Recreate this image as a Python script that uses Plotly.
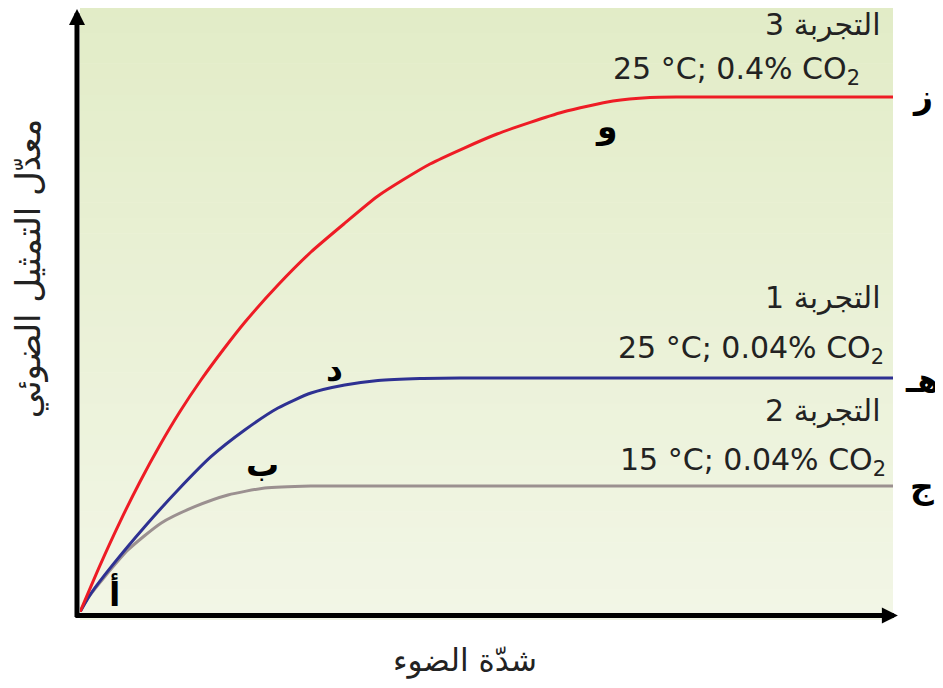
"""Light intensity vs photosynthesis rate, three experiments."""

import plotly.graph_objects as go

# light intensity (arbitrary units, 0-100) and photosynthesis rate (0-100)
red_x = [0, 2.46, 4.92, 7.38, 9.84, 12.30, 14.88, 17.59, 20.30, 24.35, 28.41, 32.60, 36.65,
         43.05, 51.29, 59.41, 65.56, 70.11, 73.80, 100]
red_y = [0, 7.77, 15.01, 21.68, 27.79, 33.36, 38.60, 43.59, 48.25, 54.41, 59.90, 64.73, 69.22,
         74.54, 79.53, 83.19, 85.02, 85.61, 85.69, 85.69]

blue_x = [0, 1.39, 3.85, 7.96, 12.05, 16.11, 20.26, 24.35, 28.41, 32.56, 36.65, 41.82, 46.74, 100]
blue_y = [0, 3.16, 7.54, 14.19, 20.30, 25.84, 30.28, 33.94, 36.44, 37.77, 38.52, 38.85, 38.94, 38.94]

gray_x = [0, 0.98, 3.04, 5.90, 10.0, 14.11, 18.2, 22.72, 28.41, 100]
gray_y = [0, 2.33, 5.87, 10.32, 14.81, 17.52, 19.47, 20.63, 20.97, 20.97]

# point letters on the curves
point_labels = ["أ", "ب", "د", "و"]
point_x = [4.27, 22.5, 31.3, 64.8]
point_y = [3.1, 24.5, 40.3, 80.75]

# letters at the right end of each curve
end_labels = ["ز", "هـ", "ج"]
end_y = [0.857, 0.386, 0.208]

exp_names = ["التجربة 3", "التجربة 1", "التجربة 2"]
exp_conditions = ["25 °C; 0.4% CO<sub>2</sub>", "25 °C; 0.04% CO<sub>2</sub>",
                  "15 °C; 0.04% CO<sub>2</sub>"]
exp_name_pos = [(0.9877, 0.977), (0.9877, 0.524), (0.9877, 0.336)]
exp_cond_pos = [(0.9619, 0.9018), (0.9914, 0.436), (0.9938, 0.251)]

x_title = "شدّة الضوء"
y_title = "معدّل التمثيل الضوئي"

fig = go.Figure()

# gradient background, darker green at the top
n = 40
top, bottom = (226, 236, 199), (242, 246, 230)
y0, y1 = -0.0133, 1.015
for i in range(n):
    t = i / (n - 1)
    c = tuple(round(bottom[k] + (top[k] - bottom[k]) * t) for k in range(3))
    fig.add_shape(type="rect", xref="paper", yref="paper", layer="below",
                  x0=0, x1=1, y0=y0 + (y1 - y0) * i / n, y1=y0 + (y1 - y0) * (i + 1) / n + 0.001,
                  line=dict(width=0), fillcolor="rgb(%d,%d,%d)" % c)

for xs, ys, col in [(gray_x, gray_y, "#9b9090"), (blue_x, blue_y, "#2e3192"), (red_x, red_y, "#ee1c25")]:
    fig.add_trace(go.Scatter(x=xs, y=ys, mode="lines", line=dict(color=col, width=3, shape="spline", smoothing=0.6),
                             hoverinfo="skip", showlegend=False, cliponaxis=False))

# axes with arrows
fig.add_annotation(x=-0.0037, y=1.006, xref="paper", yref="paper", ax=0, ay=611,
                   text="", showarrow=True, arrowhead=2, arrowsize=0.64, arrowwidth=5, arrowcolor="black")
fig.add_annotation(x=1.006, y=-0.0058, xref="paper", yref="paper", ax=-824, ay=0,
                   text="", showarrow=True, arrowhead=2, arrowsize=0.64, arrowwidth=5, arrowcolor="black")

for lab, px, py in zip(point_labels, point_x, point_y):
    fig.add_annotation(x=px, y=py, xref="x", yref="y", text="<b>%s</b>" % lab, showarrow=False,
                       xanchor="center", yanchor="middle",
                       font=dict(size=33, color="black", family="DejaVu Sans"))
for lab, py in zip(end_labels, end_y):
    fig.add_annotation(x=1.036, y=py, xref="paper", yref="paper", text="<b>%s</b>" % lab, showarrow=False,
                       xanchor="center", yanchor="middle",
                       font=dict(size=33, color="black", family="DejaVu Sans"))

for name, (nx, ny) in zip(exp_names, exp_name_pos):
    fig.add_annotation(x=nx, y=ny, xref="paper", yref="paper", text=name, showarrow=False,
                       xanchor="right", yanchor="middle",
                       font=dict(size=30, color="#222", family="DejaVu Sans"))
for cond, (cx, cy) in zip(exp_conditions, exp_cond_pos):
    fig.add_annotation(x=cx, y=cy, xref="paper", yref="paper", text=cond, showarrow=False,
                       xanchor="right", yanchor="middle",
                       font=dict(size=30, color="#222", family="DejaVu Sans"))

fig.add_annotation(x=0.4736, y=-0.08, xref="paper", yref="paper", text=x_title, showarrow=False,
                   xanchor="center", yanchor="middle",
                   font=dict(size=31, color="#222", family="DejaVu Sans"))
fig.add_annotation(x=-0.064, y=0.572, xref="paper", yref="paper", text=y_title, showarrow=False,
                   xanchor="center", yanchor="middle", textangle=-90,
                   font=dict(size=34, color="#222", family="DejaVu Sans"))

fig.update_xaxes(range=[0, 100], visible=False)
fig.update_yaxes(range=[0, 100], visible=False)
# page body adds 8px, so the figure is 8px smaller and shifted margins
fig.update_layout(
    width=935, height=680,
    margin=dict(l=72, r=50, t=3, b=76),
    paper_bgcolor="white", plot_bgcolor="rgba(0,0,0,0)",
)

fig.write_html("out.html")
